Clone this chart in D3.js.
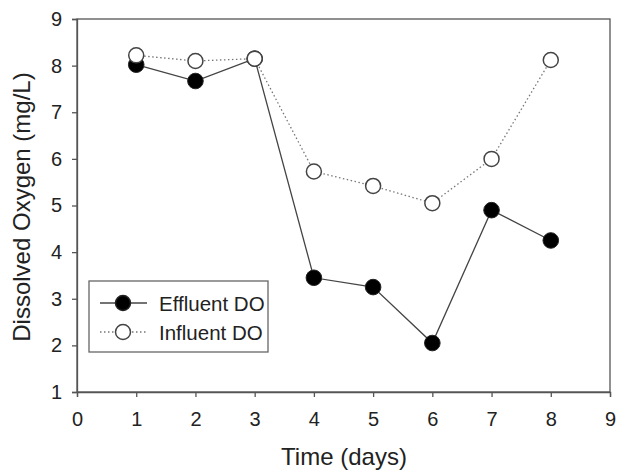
<!DOCTYPE html>
<html>
<head>
<meta charset="utf-8">
<script src="https://cdn.jsdelivr.net/npm/d3@7"></script>
<style>
  body { margin: 0; background: #fff; }
  text { font-family: "Liberation Sans", Arial, sans-serif; fill: #222; }
</style>
</head>
<body>
<script>
// data
var days = [1, 2, 3, 4, 5, 6, 7, 8];
var effluent = [8.02, 7.67, 8.15, 3.45, 3.25, 2.05, 4.90, 4.25];
var influent = [8.22, 8.10, 8.15, 5.73, 5.42, 5.05, 6.00, 8.12];
var xTicks = [0, 1, 2, 3, 4, 5, 6, 7, 8, 9];
var yTicks = [1, 2, 3, 4, 5, 6, 7, 8, 9];

var width = 621, height = 473;
var margin = {top: 19, right: 11, bottom: 81, left: 77};

var svg = d3.select("body").append("svg")
    .attr("width", width)
    .attr("height", height);

var x = d3.scaleLinear().domain([0, 9]).range([margin.left, width - margin.right]);
var y = d3.scaleLinear().domain([1, 9]).range([height - margin.bottom, margin.top]);

// frame
svg.append("rect")
    .attr("x", x(0)).attr("y", y(9))
    .attr("width", x(9) - x(0)).attr("height", y(1) - y(9))
    .attr("fill", "none").attr("stroke", "#555").attr("stroke-width", 1.3);

var xAxis = svg.append("g")
    .attr("transform", "translate(0," + y(1) + ")")
    .call(d3.axisBottom(x).tickValues(xTicks).tickSize(5).tickPadding(15).tickFormat(d3.format("d")));
var yAxis = svg.append("g")
    .attr("transform", "translate(" + x(0) + ",0)")
    .call(d3.axisLeft(y).tickValues(yTicks).tickSize(5).tickPadding(10).tickFormat(d3.format("d")));

[xAxis, yAxis].forEach(function(a) {
    a.select(".domain").attr("stroke", "#555").attr("stroke-width", 1.3);
    a.selectAll(".tick line").attr("stroke", "#555").attr("stroke-width", 1.3);
    a.selectAll(".tick text").style("font-size", "20px").attr("fill", "#222")
        .style("font-family", "Liberation Sans, Arial, sans-serif");
});

// axis titles
svg.append("text")
    .attr("x", 344)
    .attr("y", 465)
    .attr("text-anchor", "middle")
    .style("font-size", "24px")
    .text("Time (days)");

svg.append("text")
    .attr("transform", "translate(30,207) rotate(-90)")
    .attr("text-anchor", "middle")
    .style("font-size", "24px")
    .text("Dissolved Oxygen (mg/L)");

var line = d3.line()
    .x(function(d) { return x(d[0]); })
    .y(function(d) { return y(d[1]); });

var effData = days.map(function(d, i) { return [d, effluent[i]]; });
var infData = days.map(function(d, i) { return [d, influent[i]]; });

// influent first (dotted, open)
svg.append("path")
    .attr("d", line(infData))
    .attr("fill", "none").attr("stroke", "#777")
    .attr("stroke-width", 1.3).attr("stroke-dasharray", "1.5,2.5");

svg.append("path")
    .attr("d", line(effData))
    .attr("fill", "none").attr("stroke", "#444").attr("stroke-width", 1.3);

svg.selectAll(".eff")
    .data(effData)
    .enter().append("circle")
    .attr("class", "eff")
    .attr("cx", function(d) { return x(d[0]); })
    .attr("cy", function(d) { return y(d[1]); })
    .attr("r", 7.8)
    .attr("fill", "#000").attr("stroke", "#222").attr("stroke-width", 1);

svg.selectAll(".inf")
    .data(infData)
    .enter().append("circle")
    .attr("class", "inf")
    .attr("cx", function(d) { return x(d[0]); })
    .attr("cy", function(d) { return y(d[1]); })
    .attr("r", 7.5)
    .attr("fill", "#fff").attr("stroke", "#444").attr("stroke-width", 1.5);

// legend
var lg = svg.append("g").attr("transform", "translate(89,281)");
lg.append("rect")
    .attr("width", 179).attr("height", 71)
    .attr("fill", "#fff").attr("stroke", "#666").attr("stroke-width", 1.3);

var items = [
    {label: "Effluent DO", fill: "#000", dash: null, stroke: "#444", cy: 22},
    {label: "Influent DO", fill: "#fff", dash: "1.5,2.5", stroke: "#777", cy: 51}
];
items.forEach(function(it) {
    lg.append("line")
        .attr("x1", 11).attr("x2", 58).attr("y1", it.cy).attr("y2", it.cy)
        .attr("stroke", it.stroke).attr("stroke-width", 1.3)
        .attr("stroke-dasharray", it.dash);
    lg.append("circle")
        .attr("cx", 34).attr("cy", it.cy).attr("r", 7.5)
        .attr("fill", it.fill).attr("stroke", it.fill == "#000" ? "#222" : "#444")
        .attr("stroke-width", 1.5);
    lg.append("text")
        .attr("x", 70).attr("y", it.cy + 7.5)
        .style("font-size", "20.5px")
        .text(it.label);
});
</script>
</body>
</html>
